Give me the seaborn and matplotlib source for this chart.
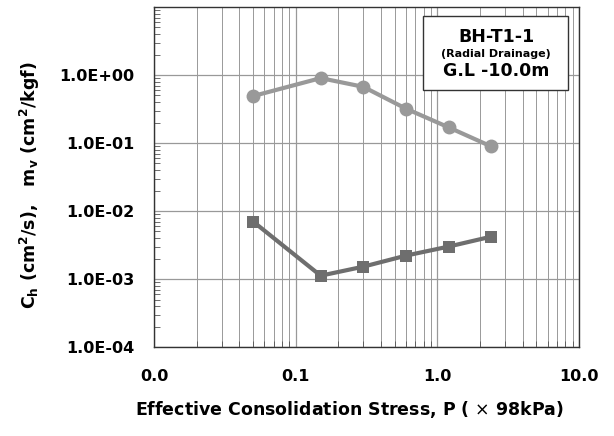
import matplotlib
matplotlib.use("Agg")
import matplotlib.pyplot as plt
import seaborn as sns
import pandas as pd
from matplotlib.patches import Rectangle
from matplotlib.ticker import FixedLocator, FixedFormatter, LogLocator, NullFormatter

stress = [0.05, 0.15, 0.3, 0.6, 1.2, 2.4]
mv = [0.49, 0.90, 0.67, 0.32, 0.17, 0.089]
ch = [0.0070, 0.00112, 0.00152, 0.00221, 0.0030, 0.0042]
xtick_vals = [0.01, 0.1, 1.0, 10.0]
xtick_labels = ["0.0", "0.1", "1.0", "10.0"]
ytick_vals = [1e-4, 1e-3, 1e-2, 1e-1, 1e0]
ytick_labels = ["1.0E-04", "1.0E-03", "1.0E-02", "1.0E-01", "1.0E+00"]

sns.set_style("white")
plt.rcParams['font.family'] = ['DejaVu Sans']
plt.rcParams['text.color'] = 'black'
plt.rcParams['axes.labelcolor'] = 'black'
plt.rcParams['xtick.color'] = 'black'
plt.rcParams['ytick.color'] = 'black'

fig = plt.figure(figsize=(6.14, 4.36), dpi=100)
ax = fig.add_axes([0.251, 0.204, 0.692, 0.78])

df_mv = pd.DataFrame({"P": stress, "val": mv})
df_ch = pd.DataFrame({"P": stress, "val": ch})
sns.lineplot(data=df_mv, x="P", y="val", ax=ax, color="#999999", marker="o",
             markersize=10, linewidth=3, markeredgewidth=0, zorder=3)
sns.lineplot(data=df_ch, x="P", y="val", ax=ax, color="#6e6e6e", marker="s",
             markersize=8.5, linewidth=3, markeredgewidth=0, zorder=3)

ax.set_xscale("log")
ax.set_yscale("log")
ax.set_xlim(0.01, 10)
ax.set_ylim(1e-4, 10)

ax.xaxis.set_major_locator(FixedLocator(xtick_vals))
ax.xaxis.set_major_formatter(FixedFormatter(xtick_labels))
ax.xaxis.set_minor_locator(LogLocator(base=10, subs=range(2, 10)))
ax.xaxis.set_minor_formatter(NullFormatter())
ax.yaxis.set_major_locator(FixedLocator(ytick_vals))
ax.yaxis.set_major_formatter(FixedFormatter(ytick_labels))
ax.yaxis.set_minor_locator(LogLocator(base=10, subs=range(2, 10)))
ax.yaxis.set_minor_formatter(NullFormatter())

ax.grid(True, which="major", axis="both", color="#999999", linewidth=0.9)
ax.grid(True, which="minor", axis="x", color="#999999", linewidth=0.7)
ax.tick_params(axis="y", which="major", direction="in", length=4, labelsize=11.5, pad=14)
ax.tick_params(axis="x", which="major", direction="in", length=4, labelsize=11.5, pad=16)
ax.tick_params(axis="y", which="minor", direction="in", length=4, left=True, color="#555555")
ax.tick_params(axis="x", which="minor", direction="in", length=4, bottom=True, color="#555555")
for lab in ax.get_xticklabels() + ax.get_yticklabels():
    lab.set_fontweight("bold")
for s in ax.spines.values():
    s.set_color("#333333")
    s.set_linewidth(1.0)

ax.set_xlabel("Effective Consolidation Stress, P ( $\\times$ 98kPa)", fontsize=12.5,
              fontweight="bold")
ax.xaxis.set_label_coords(0.459, -0.185)
ax.xaxis.label.set_va("center")
ax.set_ylabel("C$_\\mathbf{h}$ (cm$^\\mathbf{2}$/s),   m$_\\mathbf{v}$ (cm$^\\mathbf{2}$/kgf)",
              fontsize=12.5, fontweight="bold")
ax.yaxis.set_label_coords(-0.292, 0.476)
ax.yaxis.label.set_va("center")

ax.add_patch(Rectangle((0.633, 0.756), 0.341, 0.218, transform=ax.transAxes,
                       facecolor="white", edgecolor="#333333", linewidth=1, zorder=6))
ax.text(0.805, 0.913, "BH-T1-1", transform=ax.transAxes, ha="center", va="center",
        fontsize=12.5, fontweight="bold", zorder=7)
ax.text(0.805, 0.862, "(Radial Drainage)", transform=ax.transAxes, ha="center", va="center",
        fontsize=8, fontweight="bold", zorder=7)
ax.text(0.805, 0.812, "G.L -10.0m", transform=ax.transAxes, ha="center", va="center",
        fontsize=12.5, fontweight="bold", zorder=7)

fig.savefig("out.png", dpi=100)
